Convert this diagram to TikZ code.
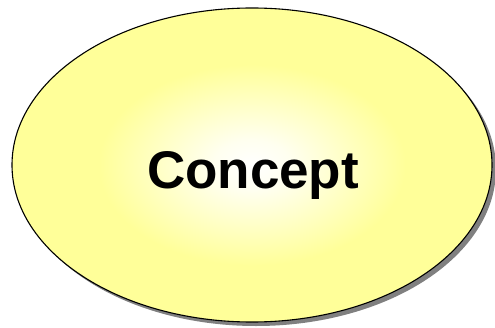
\documentclass[tikz,border=0pt]{standalone}
\usepackage{fontspec}
\newfontfamily\conceptfont{Liberation Sans}
\usetikzlibrary{shapes.geometric, shadows}
\definecolor{conceptyellow}{RGB}{255,255,153}
\definecolor{shadowgray}{RGB}{128,128,128}
\pgfdeclareradialshading{conceptglow}{\pgfpoint{0bp}{0bp}}{%
    color(0bp)=(white); color(4bp)=(white!85!conceptyellow); color(16bp)=(conceptyellow); color(25bp)=(conceptyellow); color(50bp)=(conceptyellow)}
\tikzset{
    concept/.style = {ellipse, draw=black, line width=1.1pt, minimum width=480pt, minimum height=314pt, inner sep=0pt,
        shading=conceptglow, drop shadow={shadow xshift=4pt, shadow yshift=-4pt, fill=shadowgray, opacity=1}},
    label text/.style = {font=\conceptfont\bfseries\fontsize{53}{60}\selectfont}
}
\begin{document}
\begin{tikzpicture}[x=1pt, y=1pt]
\useasboundingbox (0,0) rectangle (495,327);

% --- CONCEPT BUBBLE ---
\node (concept) [concept] at (252,162) {};
\node (title) [label text, anchor=base] at (253,139) {Concept};

\end{tikzpicture}
\end{document}
